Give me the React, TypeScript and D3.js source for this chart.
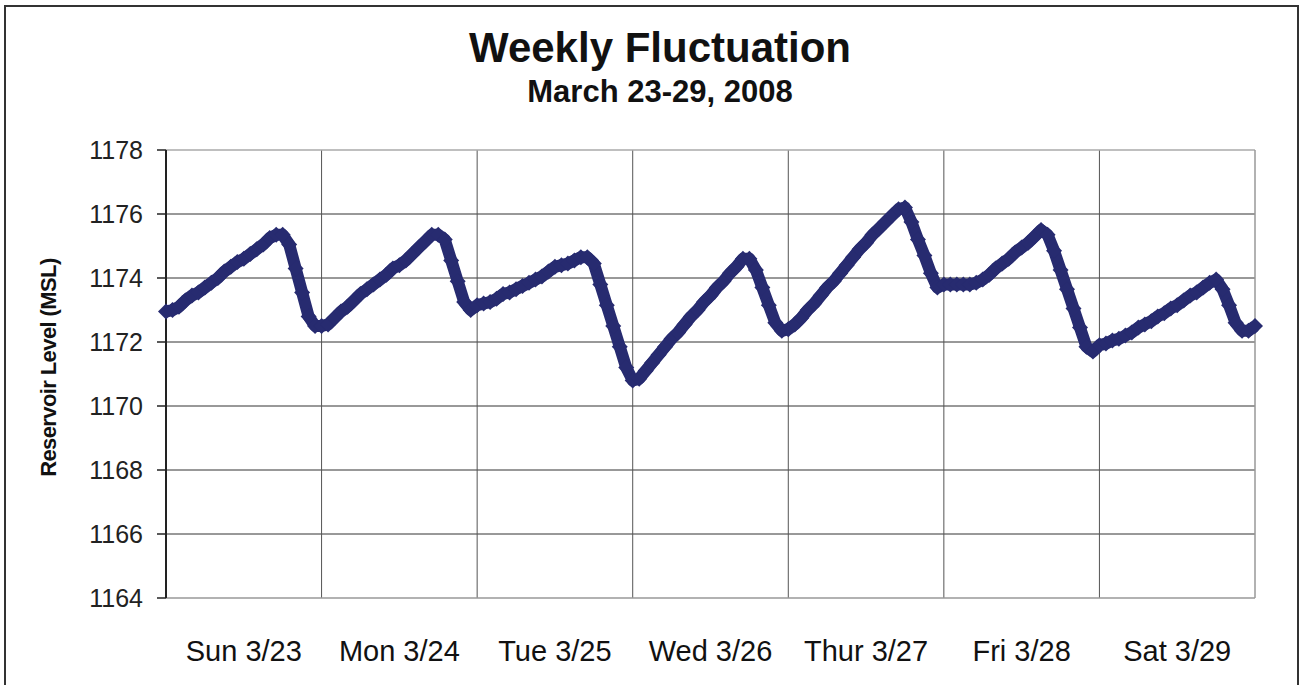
import * as d3 from "d3";

// niveles horarios (pies MSL), 24 lecturas por dia, 23-29 marzo 2008
const sunLevels = [1172.95, 1173.0, 1173.1, 1173.3, 1173.45, 1173.55, 1173.7, 1173.85, 1174.0, 1174.2, 1174.35, 1174.5, 1174.6, 1174.75, 1174.9, 1175.05, 1175.25, 1175.35, 1175.35, 1175.05, 1174.3, 1173.55, 1172.8, 1172.5];
const monLevels = [1172.5, 1172.55, 1172.75, 1172.95, 1173.1, 1173.3, 1173.5, 1173.65, 1173.8, 1173.95, 1174.1, 1174.3, 1174.4, 1174.55, 1174.75, 1174.95, 1175.15, 1175.35, 1175.35, 1175.2, 1174.55, 1173.9, 1173.25, 1173.0];
const tueLevels = [1173.15, 1173.2, 1173.25, 1173.35, 1173.5, 1173.55, 1173.65, 1173.75, 1173.85, 1173.95, 1174.05, 1174.2, 1174.35, 1174.4, 1174.45, 1174.55, 1174.65, 1174.65, 1174.45, 1173.8, 1173.15, 1172.5, 1171.85, 1171.2];
const wedLevels = [1170.8, 1170.85, 1171.1, 1171.35, 1171.6, 1171.85, 1172.1, 1172.3, 1172.55, 1172.8, 1173.0, 1173.25, 1173.45, 1173.7, 1173.9, 1174.15, 1174.35, 1174.6, 1174.6, 1174.25, 1173.7, 1173.15, 1172.6, 1172.35];
const thuLevels = [1172.4, 1172.55, 1172.75, 1173.0, 1173.2, 1173.45, 1173.7, 1173.9, 1174.15, 1174.4, 1174.65, 1174.9, 1175.1, 1175.35, 1175.55, 1175.75, 1175.95, 1176.15, 1176.2, 1175.75, 1175.2, 1174.7, 1174.15, 1173.7];
const friLevels = [1173.8, 1173.8, 1173.8, 1173.8, 1173.8, 1173.85, 1173.95, 1174.1, 1174.3, 1174.45, 1174.6, 1174.8, 1174.95, 1175.1, 1175.3, 1175.5, 1175.35, 1174.85, 1174.25, 1173.65, 1173.05, 1172.45, 1171.85, 1171.7];
const satLevels = [1171.9, 1171.95, 1172.05, 1172.1, 1172.2, 1172.3, 1172.45, 1172.55, 1172.65, 1172.8, 1172.9, 1173.05, 1173.15, 1173.3, 1173.45, 1173.55, 1173.7, 1173.85, 1173.95, 1173.65, 1173.15, 1172.6, 1172.35, 1172.35];
const lastLevel = [1172.5]; // medianoche final

const dayLabels = ["Sun 3/23", "Mon 3/24", "Tue 3/25", "Wed 3/26", "Thur 3/27", "Fri 3/28", "Sat 3/29"];
const yTicks = [1164, 1166, 1168, 1170, 1172, 1174, 1176, 1178];

const width = 1301;
const height = 685;
const margin = { top: 150, right: 46, bottom: 87, left: 166 };
const navy = "#272B70";
const font = "Arial, 'Liberation Sans', sans-serif";

const levels = [
  ...sunLevels,
  ...monLevels,
  ...tueLevels,
  ...wedLevels,
  ...thuLevels,
  ...friLevels,
  ...satLevels,
  ...lastLevel,
];

export default function App() {
  const hours = dayLabels.length * 24;

  const x = d3
    .scaleLinear()
    .domain([0, hours])
    .range([margin.left, width - margin.right]);

  const y = d3
    .scaleLinear()
    .domain([1164, 1178])
    .range([height - margin.bottom, margin.top]);

  const linea = d3
    .line<number>()
    .x((_, i) => x(i))
    .y((d) => y(d));

  const diamond = "M0,-8L8,0L0,8L-8,0Z";
  const dayEdges = d3.range(dayLabels.length + 1).map((d) => d * 24);

  return (
    <div style={{ position: "absolute", left: 0, top: 0 }}>
      <svg width={width} height={height} style={{ display: "block", background: "#fff" }}>
        {/* marco exterior */}
        <rect x={5} y={6} width={1293} height={720} fill="none" stroke="#333" strokeWidth={2} />

        <text x={660} y={62} textAnchor="middle" fontFamily={font} fontWeight="bold" fontSize={42} fill="#111">
          Weekly Fluctuation
        </text>
        <text x={660} y={102} textAnchor="middle" fontFamily={font} fontWeight="bold" fontSize={31} fill="#111">
          March 23-29, 2008
        </text>

        {/* rejilla horizontal */}
        {yTicks.map((t) => (
          <g key={t}>
            {t !== 1164 && t !== 1178 && (
              <line x1={x(0)} x2={x(hours)} y1={y(t)} y2={y(t)} stroke="#333" strokeWidth={1} />
            )}
            <line x1={x(0) - 9} x2={x(0)} y1={y(t)} y2={y(t)} stroke="#222" strokeWidth={1.5} />
            <text
              x={143}
              y={y(t)}
              dy="0.36em"
              textAnchor="end"
              fontFamily={font}
              fontSize={25}
              fill="#222"
            >
              {t}
            </text>
          </g>
        ))}

        {/* rejilla vertical por dia */}
        {dayEdges.slice(1, -1).map((h) => (
          <line key={h} x1={x(h)} x2={x(h)} y1={y(1178)} y2={y(1164)} stroke="#555" strokeWidth={1} />
        ))}

        {/* borde del area de trazado */}
        <line x1={x(0)} x2={x(hours)} y1={y(1178)} y2={y(1178)} stroke="#aaa" strokeWidth={1.5} />
        <line x1={x(hours)} x2={x(hours)} y1={y(1178)} y2={y(1164)} stroke="#999" strokeWidth={1.5} />
        <line x1={x(0)} x2={x(hours)} y1={y(1164)} y2={y(1164)} stroke="#999" strokeWidth={1.5} />
        <line x1={x(0)} x2={x(0)} y1={y(1178)} y2={y(1164)} stroke="#222" strokeWidth={2} />

        {/* serie */}
        <path d={linea(levels) ?? ""} fill="none" stroke={navy} strokeWidth={12} strokeLinejoin="round" />
        {levels.map((v, i) => (
          <path key={i} d={diamond} transform={`translate(${x(i)},${y(v)})`} fill={navy} />
        ))}

        {/* etiquetas de dia */}
        {dayLabels.map((d, i) => (
          <text
            key={d}
            x={x(i * 24 + 12)}
            y={661}
            textAnchor="middle"
            fontFamily={font}
            fontSize={29}
            fill="#111"
          >
            {d}
          </text>
        ))}

        <text
          transform={`translate(56,${y(1171.2)}) rotate(-90)`}
          textAnchor="middle"
          fontFamily={font}
          fontWeight="bold"
          fontSize={22}
          letterSpacing={-0.6}
          fill="#111"
        >
          Reservoir Level (MSL)
        </text>
      </svg>
    </div>
  );
}
